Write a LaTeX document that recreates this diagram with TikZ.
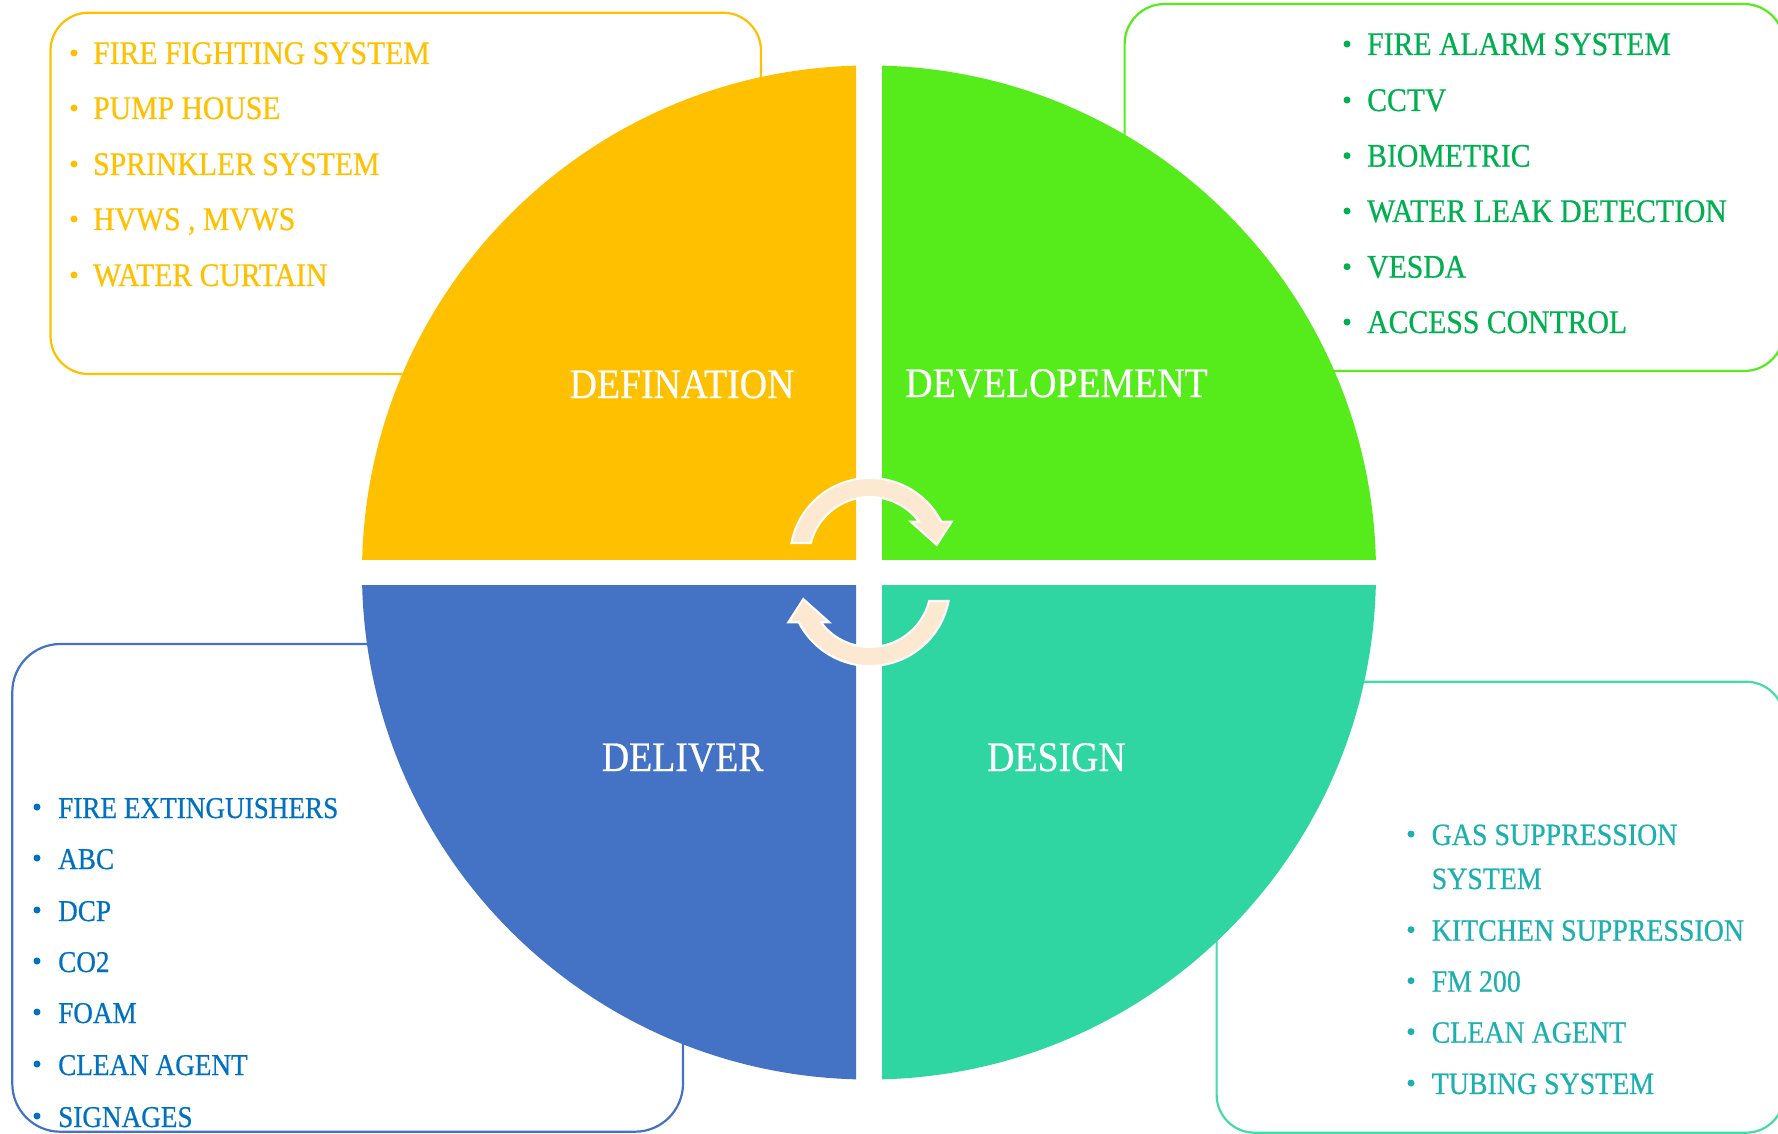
\documentclass[tikz,border=0pt]{standalone}
\usepackage{fontspec}
\newfontfamily\lsf[FakeStretch=0.9,FakeBold=0.6]{Liberation Serif}
\usetikzlibrary{calc}
\definecolor{qyellow}{HTML}{FFC000}
\definecolor{qgreen}{HTML}{56EB1A}
\definecolor{qblue}{HTML}{4472C4}
\definecolor{qteal}{HTML}{2FD6A1}
\definecolor{tyellow}{HTML}{FFC000}
\definecolor{tgreen}{HTML}{00B050}
\definecolor{tblue}{HTML}{0070C0}
\definecolor{tteal}{HTML}{1EB0B0}
\definecolor{arrowfill}{HTML}{FDE8D2}
\tikzset{
  listbox/.style={line width=2.2pt},
  item/.style={anchor=base west, inner sep=0pt, font=\lsf\fontsize{#1}{#1}\selectfont},
  itemY/.style={item=33, text=tyellow},
  itemG/.style={item=33, text=tgreen},
  itemB/.style={item=30.2, text=tblue},
  itemT/.style={item=31, text=tteal},
  qlabel/.style={anchor=base, inner sep=0pt, text=white, font=\lsf\fontsize{42}{42}\selectfont},
  bul/.style={radius=3.5pt},
  cyclearrow/.style={fill=arrowfill, draw=white, line width=2pt, line join=miter}
}
\begin{document}
\begin{tikzpicture}[x=1pt,y=1pt]
\useasboundingbox (0,0) rectangle (1778,-1134);

% list boxes (behind the circle)
\draw[listbox, qyellow, rounded corners=38pt] (50.5,-12.7) rectangle (761,-374);
\draw[listbox, qgreen, rounded corners=40pt] (1124.6,-4) rectangle (1784,-371);
\draw[listbox, qblue, rounded corners=48pt] (12.3,-644) rectangle (683,-1131.7);
\draw[listbox, qteal!90!white, rounded corners=38pt] (1216.6,-681.7) rectangle (1784,-1132.7);

% quadrants
\coordinate (O) at (869,-572.5);
\begin{scope}
  \clip (0,0) rectangle (856,-559.5);
  \fill[qyellow] (O) circle[radius=507];
\end{scope}
\begin{scope}
  \clip (882,0) rectangle (1778,-559.5);
  \fill[qgreen] (O) circle[radius=507];
\end{scope}
\begin{scope}
  \clip (0,-585.5) rectangle (856,-1134);
  \fill[qblue] (O) circle[radius=507];
\end{scope}
\begin{scope}
  \clip (882,-585.5) rectangle (1778,-1134);
  \fill[qteal] (O) circle[radius=507];
\end{scope}

% cycle arrows
\coordinate (C1) at (870,-558);
\coordinate (C2) at (870,-586);
\draw[cyclearrow] ($(C1)+(169.2:80)$) arc[start angle=169.2, end angle=27, radius=80]
  -- (951.7,-521.7) -- (936.7,-545) -- (910.7,-521.7)
  -- ($(C1)+(36.5:61)$) arc[start angle=36.5, end angle=165.8, radius=61] -- cycle;
\draw[cyclearrow] ($(C2)+(349.2:80)$) arc[start angle=349.2, end angle=207, radius=80]
  -- (788.3,-622.3) -- (803.3,-599) -- (829.3,-622.3)
  -- ($(C2)+(216.5:61)$) arc[start angle=216.5, end angle=345.8, radius=61] -- cycle;

% quadrant labels
\node[qlabel] (defination) at (682,-398) {DEFINATION};
\node[qlabel] (developement) at (1056.5,-397) {DEVELOPEMENT};
\node[qlabel] (deliver) at (682.7,-771) {DELIVER};
\node[qlabel] (design) at (1056.5,-771) {DESIGN};

% yellow list
\node[itemY] (y1) at (93,-64) {FIRE FIGHTING SYSTEM};
\node[itemY] (y2) at (93,-119) {PUMP HOUSE};
\node[itemY] (y3) at (93,-175) {SPRINKLER SYSTEM};
\node[itemY] (y4) at (93,-230) {HVWS , MVWS};
\node[itemY] (y5) at (93,-286) {WATER CURTAIN};
\foreach \b in {64,119,175,230,286} \fill[tyellow] (74,-\b+11) circle[bul];

% green list
\node[itemG] (g1) at (1367,-55) {FIRE ALARM SYSTEM};
\node[itemG] (g2) at (1367,-111) {CCTV};
\node[itemG] (g3) at (1367,-166.7) {BIOMETRIC};
\node[itemG] (g4) at (1367,-222) {WATER LEAK DETECTION};
\node[itemG] (g5) at (1367,-277.7) {VESDA};
\node[itemG] (g6) at (1367,-333) {ACCESS CONTROL};
\foreach \b in {55,111,166.7,222,277.7,333} \fill[tgreen] (1347,-\b+11) circle[bul];

% blue list
\node[itemB] (b1) at (58,-818) {FIRE EXTINGUISHERS};
\node[itemB] (b2) at (58,-869) {ABC};
\node[itemB] (b3) at (58,-921) {DCP};
\node[itemB] (b4) at (58,-972) {CO2};
\node[itemB] (b5) at (58,-1023) {FOAM};
\node[itemB] (b6) at (58,-1075) {CLEAN AGENT};
\node[itemB] (b7) at (58,-1127) {SIGNAGES};
\foreach \b in {818,869,921,972,1023,1075,1127} \fill[tblue] (37,-\b+11) circle[bul];

% teal list
\node[itemT] (t1a) at (1431.5,-845) {GAS SUPPRESSION};
\node[itemT] (t1b) at (1431.5,-889) {SYSTEM};
\node[itemT] (t2) at (1431.5,-940.7) {KITCHEN SUPPRESSION};
\node[itemT] (t3) at (1431.5,-991.7) {FM 200};
\node[itemT] (t4) at (1431.5,-1042.7) {CLEAN AGENT};
\node[itemT] (t5) at (1431.5,-1094) {TUBING SYSTEM};
\foreach \b in {845,940.7,991.7,1042.7,1094} \fill[tteal] (1411,-\b+11) circle[bul];
\end{tikzpicture}
\end{document}
